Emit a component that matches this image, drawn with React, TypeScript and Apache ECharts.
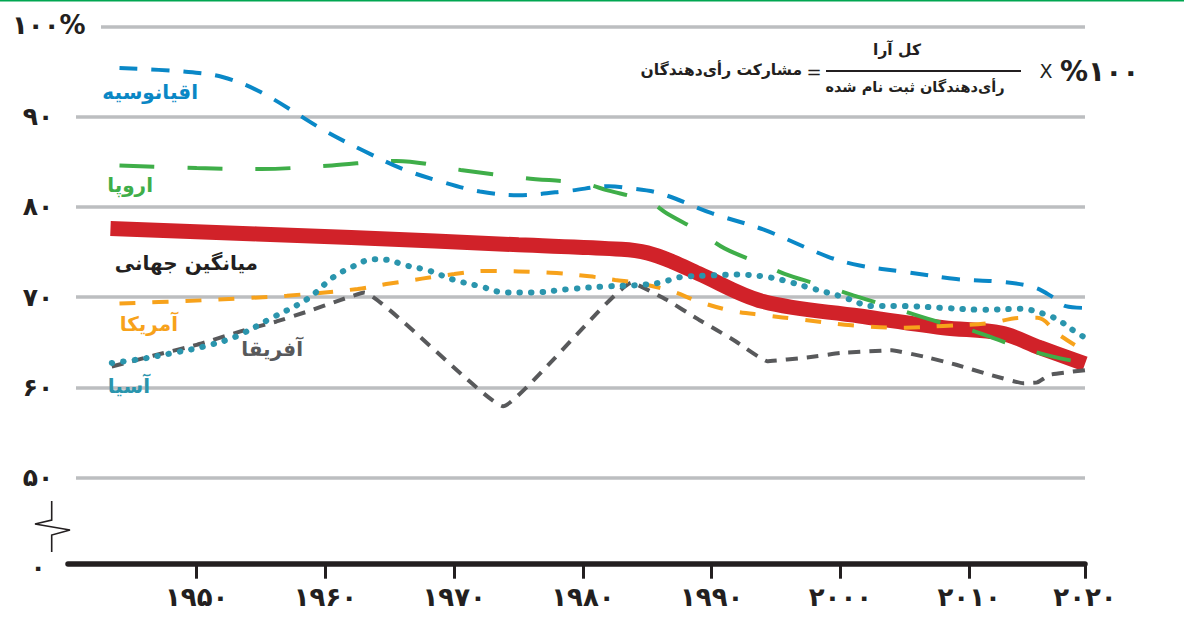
import React, { useEffect, useRef } from "react";
import * as echarts from "echarts";

// ---- data (year, turnout %) ----
const worldAverage: [number, number][] = [
  [1943.3, 77.6], [1962, 76.6], [1975, 75.8], [1983, 75.3], [1985, 74.9], [1987, 73.9], [1989, 72.6],
  [1994, 69.5], [2001.5, 67.9], [2008, 66.6], [2012.5, 66.0], [2015.5, 64.4], [2019, 62.6],
];
const oceania: [number, number][] = [
  [1944, 95.4], [1949, 95.0], [1952, 94.4], [1955, 92.7], [1960, 88.4], [1963, 86.2], [1966, 84.2],
  [1969, 82.8], [1972, 81.7], [1975, 81.3], [1979, 81.8], [1982, 82.3], [1983.5, 82.1], [1986, 81.5],
  [1990, 79.3], [1994, 77.5], [1999, 74.5], [2001.5, 73.5], [2005, 72.8], [2009, 72.0], [2012.5, 71.7],
  [2015, 71.1], [2016.5, 70.0], [2017.5, 69.0], [2019, 68.8],
];
const europe: [number, number][] = [
  [1944, 84.6], [1950, 84.3], [1955, 84.2], [1960.5, 84.6], [1965.5, 85.1], [1970.5, 84.1],
  [1975.5, 83.2], [1980, 82.6], [1982, 81.8], [1984.2, 81.0], [1985.5, 80.3], [1986.5, 79.3],
  [1989, 77.3], [1991, 75.4], [1994, 73.6], [1996, 72.4], [1999, 71.1], [2001, 70.2], [2003, 69.3],
  [2005, 68.4], [2007.5, 67.3], [2010, 66.4], [2012, 65.4], [2014, 64.4], [2016.5, 63.4], [2019, 62.7],
];
const america: [number, number][] = [
  [1944, 69.3], [1949, 69.55], [1954, 69.9], [1957, 70.15], [1962.5, 70.9], [1965, 71.5], [1970, 72.55],
  [1972.5, 72.9], [1977.5, 72.7], [1980.5, 72.3], [1982.5, 71.9], [1984.5, 71.5], [1987, 70.6],
  [1989, 69.5], [1991.5, 68.5], [1994, 68.0], [1997, 67.5], [2000, 67.0], [2002, 66.75], [2005, 66.6],
  [2008, 66.8], [2011.5, 67.1], [2014, 67.7], [2015.3, 67.7], [2017, 65.8], [2019, 64.0],
];
const asia: [number, number][] = [
  [1943.4, 62.7], [1945.5, 63.1], [1948.5, 63.9], [1950.5, 64.5], [1953, 65.6], [1955.7, 67.6],
  [1958.6, 69.8], [1960.6, 72.2], [1962, 73.3], [1963.7, 74.2], [1965, 74.1], [1966, 73.6],
  [1968, 72.95], [1970, 71.9], [1972, 71.2], [1974, 70.5], [1976, 70.5], [1979, 70.9], [1982, 71.2],
  [1984, 71.3], [1986, 71.6], [1987.5, 72.2], [1990, 72.4], [1992, 72.5], [1994, 72.3], [1995.6, 71.85],
  [1997.7, 71.0], [2000, 70.1], [2002.6, 69.0], [2005, 69.0], [2008, 68.8], [2011, 68.6], [2014, 68.7],
  [2016, 68.05], [2017, 67.4], [2018, 66.4], [2019, 65.5],
];
const africa: [number, number][] = [
  [1943.4, 62.3], [1946.6, 63.5], [1950, 64.7], [1953.4, 66.2], [1956.2, 67.3], [1958.6, 68.4],
  [1961.2, 69.7], [1963, 70.5], [1973.8, 57.9], [1983.8, 71.6], [1986.5, 69.7], [1989, 67.5],
  [1991.7, 65.25], [1994.3, 62.9], [1997.4, 63.3], [2000, 63.8], [2004, 64.1], [2006.5, 63.4],
  [2009, 62.5], [2011.6, 61.4], [2014.2, 60.45], [2015.3, 60.55], [2016.3, 61.4], [2019, 61.9],
];

const xTickValues = [1950, 1960, 1970, 1980, 1990, 2000, 2010, 2019];
const xTickLabels = ["۱۹۵۰", "۱۹۶۰", "۱۹۷۰", "۱۹۸۰", "۱۹۹۰", "۲۰۰۰", "۲۰۱۰", "۲۰۲۰"];
const yTickValues = [40, 50, 60, 70, 80, 90, 100];
const yTickLabels = ["۰", "۵۰", "۶۰", "۷۰", "۸۰", "۹۰", ""];

const seriesNames = {
  world: "میانگین جهانی",
  oceania: "اقیانوسیه",
  europe: "اروپا",
  america: "آمریکا",
  africa: "آفریقا",
  asia: "آسیا",
};

const FONT = "DejaVu Sans";
const INK = "#231f20";

export default function App() {
  const ref = useRef<HTMLDivElement>(null);
  useEffect(() => {
    if (!ref.current) return;
    const chart = echarts.init(ref.current, null, { renderer: "svg" });
    const label = (text: string, x: number, y: number, color: string, size = 20) => ({
      type: "text",
      x,
      y,
      z: 200,
      style: { text, fill: color, font: `bold ${size}px "${FONT}"`, align: "right", verticalAlign: "middle" },
    });
    chart.setOption({
      animation: false,
      backgroundColor: "#ffffff",
      grid: { left: 68, right: 99, top: 26.5, bottom: 49.3, outerBoundsMode: "none", containLabel: false },
      xAxis: {
        type: "value",
        min: 1940,
        max: 2019,
        offset: -4,
        axisLine: { show: true, lineStyle: { color: INK, width: 5.5 } },
        axisTick: { show: true, length: 15, lineStyle: { color: INK, width: 3 }, customValues: xTickValues },
        axisLabel: {
          customValues: xTickValues,
          formatter: (v: number) => {
            const i = xTickValues.indexOf(v);
            return i >= 0 ? xTickLabels[i] : "";
          },
          color: INK,
          fontFamily: FONT,
          fontWeight: "bold",
          fontSize: 26,
          margin: 20,
        },
        splitLine: { show: false },
      },
      yAxis: {
        type: "value",
        min: 40,
        max: 100,
        interval: 10,
        axisLine: { show: false },
        axisTick: { show: false },
        axisLabel: {
          formatter: (v: number) => {
            const i = yTickValues.indexOf(v);
            return i >= 0 ? yTickLabels[i] : "";
          },
          color: INK,
          fontFamily: FONT,
          fontWeight: "bold",
          fontSize: 25,
          align: "center",
          margin: 30,
        },
        splitLine: { show: true, showMinLine: false, lineStyle: { color: "#bcbec0", width: 3.5 } },
      },
      series: [
        { name: seriesNames.world, type: "line", data: worldAverage, smooth: 0.35, symbol: "none", z: 2,
          lineStyle: { color: "#d12229", width: 15 } },
        { name: seriesNames.africa, type: "line", data: africa, smooth: 0.1, symbol: "none", z: 3,
          lineStyle: { color: "#58595b", width: 4, type: [12, 9] } },
        { name: seriesNames.america, type: "line", data: america, smooth: 0.35, symbol: "none", z: 4,
          lineStyle: { color: "#f7a21b", width: 4, type: [16, 17] } },
        { name: seriesNames.asia, type: "line", data: asia, smooth: 0.35, symbol: "none", z: 5,
          lineStyle: { color: "#2a95ad", width: 6, type: [0.5, 11], cap: "round" } },
        { name: seriesNames.europe, type: "line", data: europe, smooth: 0.35, symbol: "none", z: 6,
          lineStyle: { color: "#3fae49", width: 4, type: [35, 33] } },
        { name: seriesNames.oceania, type: "line", data: oceania, smooth: 0.35, symbol: "none", z: 7,
          lineStyle: { color: "#0a88c7", width: 4, type: [18, 14] } },
      ],
      graphic: [
        { type: "rect", z: 150, shape: { x: 0, y: 0, width: 1184, height: 1.5 }, style: { fill: "#00a651" } },
        { type: "rect", z: 150, shape: { x: 62, y: 20, width: 39, height: 13 }, style: { fill: "#ffffff" } },
        { type: "rect", z: 150, shape: { x: 62, y: 100, width: 14, height: 390 }, style: { fill: "#ffffff" } },
        { type: "text", x: 12, y: 25, z: 200,
          style: { text: "۱۰۰%", fill: INK, font: `bold 26px "${FONT}"`, align: "left", verticalAlign: "middle" } },
        { type: "polyline", z: 200,
          shape: { points: [[51.7, 501], [51.7, 520], [35, 524], [70, 530], [51.7, 535], [51.7, 552]] },
          style: { stroke: INK, lineWidth: 1.6, fill: "none" } },
        label(seriesNames.oceania, 198, 92, "#0a87c5"),
        label(seriesNames.europe, 153, 185, "#3fae49"),
        label(seriesNames.world, 258, 263, INK),
        label(seriesNames.america, 178, 324, "#f7a21b"),
        label(seriesNames.africa, 303, 349, "#58595b"),
        label(seriesNames.asia, 150, 386, "#2a95ad"),
        // formula
        { type: "text", x: 802, y: 70, z: 200,
          style: { text: "مشارکت رأی‌دهندگان", fill: INK, font: `bold 15.5px "${FONT}"`, align: "right", verticalAlign: "middle" } },
        { type: "text", x: 814, y: 71, z: 200,
          style: { text: "=", fill: INK, font: `18px "${FONT}"`, align: "center", verticalAlign: "middle" } },
        { type: "line", z: 200, shape: { x1: 826, y1: 71, x2: 1021, y2: 71 }, style: { stroke: INK, lineWidth: 2 } },
        { type: "text", x: 897, y: 50, z: 200,
          style: { text: "کل آرا", fill: INK, font: `bold 15.5px "${FONT}"`, align: "center", verticalAlign: "middle" } },
        { type: "text", x: 915, y: 87, z: 200,
          style: { text: "رأی‌دهندگان ثبت نام شده", fill: INK, font: `bold 14.5px "${FONT}"`, align: "center", verticalAlign: "middle" } },
        { type: "text", x: 1046, y: 71, z: 200,
          style: { text: "X", fill: INK, font: `19px "${FONT}"`, align: "center", verticalAlign: "middle" } },
        { type: "text", x: 1060, y: 71, z: 200,
          style: { text: "%۱۰۰", fill: INK, font: `bold 28px "${FONT}"`, align: "left", verticalAlign: "middle" } },
      ],
    });
    return () => chart.dispose();
  }, []);
  return <div ref={ref} style={{ position: "absolute", left: 0, top: 0, width: 1184, height: 617 }} />;
}
